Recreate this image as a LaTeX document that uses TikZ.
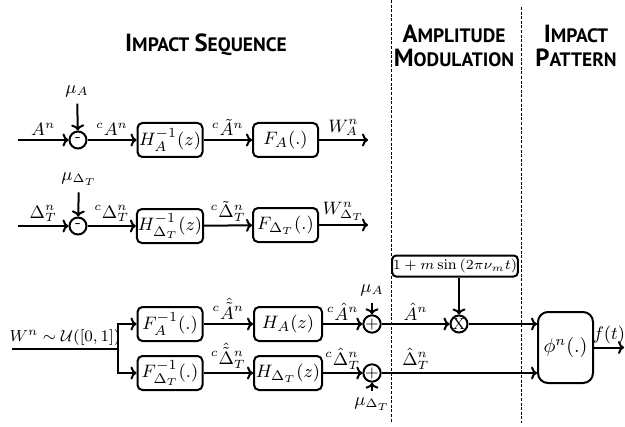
\documentclass[tikz,border=0pt]{standalone}
\usepackage{amsmath}
\usepackage{amssymb}
\usepackage{fontspec}
\usetikzlibrary{arrows.meta}
\newfontfamily\headfont{PT Sans}
\newcommand\hsc[2]{{\fontsize{12.4}{14}\selectfont #1}{\fontsize{9.7}{14}\selectfont #2}}
\tikzset{
  every node/.style={font=\fontsize{8.8}{10}\selectfont},
  blk/.style={draw,rounded corners=2.5pt,line width=1pt,minimum width=32.5pt,minimum height=17pt,inner sep=0.5pt,font=\fontsize{9.3}{11}\selectfont},
  junc/.style={draw,circle,line width=1pt,minimum size=8.5pt,inner sep=0pt,font=\footnotesize},
  sig/.style={line width=1pt,-{To[length=3pt,width=6.5pt]}},
  lbl/.style={above,inner sep=1.5pt},
  sep/.style={dash pattern=on 1.5pt off 0.8pt,line width=0.5pt},
  head/.style={font=\headfont\bfseries,align=center,inner sep=0pt}
}

\begin{document}
\begin{tikzpicture}[x=0.5pt,y=-0.5pt]
\useasboundingbox (0,0) rectangle (625,427);
% titles
\node[head] (tseq) at (206,45) {\hsc{I}{MPACT} \hsc{S}{EQUENCE}};
\node[head] (tmod) at (454,46) {\hsc{A}{MPLITUDE}\\\hsc{M}{ODULATION}};
\node[head] (tpat) at (576,46) {\hsc{I}{MPACT}\\\hsc{P}{ATTERN}};
% separators
\draw[sep] (391,0) -- (391,423);
\draw[sep] (521,7) -- (521,423);

% amplitude sequence
\coordinate (inA) at (18,140);
\node[junc] (subA) at (78,140) {-};
\node (muA) at (77,91) {$\mu_A$};
\node[blk] (invHA) at (170,140) {$H_A^{-1}(z)$};
\node[blk] (FA) at (285.5,140) {$F_A(.)$};
\coordinate (outA) at (368,140);
\draw[sig] (inA) -- node[lbl] {$A^n$} (subA);
\draw[sig] (muA) -- (subA);
\draw[sig] (subA) -- node[lbl] {${}^{c}A^n$} (invHA);
\draw[sig] (invHA) -- node[lbl] {${}^{c}\tilde{A}^n$} (FA);
\draw[sig] (FA) -- node[lbl] {$W_A^n$} (outA);

% interval sequence
\coordinate (inD) at (18,226);
\node[junc] (subD) at (78,226) {-};
\node (muD) at (79,179) {$\mu_{\Delta_T}$};
\node[blk] (invHD) at (170,226) {$H_{\Delta_T}^{-1}(z)$};
\node[blk] (FD) at (285.5,225) {$F_{\Delta_T}(.)$};
\coordinate (outD) at (368,225);
\draw[sig] (inD) -- node[lbl] {$\Delta_T^n$} (subD);
\draw[sig] (muD) -- (subD);
\draw[sig] (subD) -- node[lbl] {${}^{c}\Delta_T^n$} (invHD);
\draw[sig] (invHD) -- node[lbl] {${}^{c}\tilde{\Delta}_T^n$} (FD);
\draw[sig] (FD) -- node[lbl] {$W_{\Delta_T}^n$} (outD);

% synthesis
\coordinate (inW) at (12,349);
\coordinate (br) at (118,349);
\node[blk] (invFA) at (170,324) {$F_A^{-1}(.)$};
\node[blk] (invFD) at (170,373) {$F_{\Delta_T}^{-1}(.)$};
\node[blk,minimum width=34pt] (HA) at (288,324) {$H_A(z)$};
\node[blk,minimum width=34pt] (HD) at (288,373) {$H_{\Delta_T}(z)$};
\node[junc] (addA) at (372,324) {$+$};
\node[junc] (addD) at (372,373) {$+$};
\node (muA2) at (372,290) {$\mu_A$};
\node (muD2) at (372,404) {$\mu_{\Delta_T}$};
\node[junc] (mult) at (459,324) {X};
\node[blk,rounded corners=2pt,minimum width=0pt,minimum height=10.5pt,inner sep=0.3pt,font=\fontsize{7.5}{9}\selectfont] (mod) at (455,266) {$1+m\sin\left(2\pi\nu_m t\right)$};
\node[blk,rounded corners=5pt,minimum width=27.5pt,minimum height=35.5pt,font=\fontsize{10}{12}\selectfont] (phi) at (565.5,347.5) {$\phi^n(.)$};
\coordinate (outF) at (624,347.5);

\draw[line width=1pt] (inW) -- node[lbl,font=\fontsize{8}{10}\selectfont] {$W^n\sim\mathcal{U}([0,1])$} (br);
\draw[sig] (br) |- (invFA);
\draw[sig] (br) |- (invFD);
\draw[sig] (invFA) -- node[lbl,inner sep=2pt] {${}^{c}\hat{\tilde{A}}^n$} (HA);
\draw[sig] (invFD) -- node[lbl,inner sep=2pt] {${}^{c}\hat{\tilde{\Delta}}_T^n$} (HD);
\draw[sig] (HA) -- node[lbl] {${}^{c}\hat{A}^n$} (addA);
\draw[sig] (HD) -- node[lbl] {${}^{c}\hat{\Delta}_T^n$} (addD);
\draw[sig] (muA2) -- (addA);
\draw[sig] (muD2) -- (addD);
\draw[sig] (addA) -- node[lbl] {$\hat{A}^n$} (mult);
\draw[sig] (mod.south -| mult) -- (mult);
\draw[sig] (mult) -- (mult -| phi.west);
\draw[sig] (addD) -- node[lbl,pos=0.22] {$\hat{\Delta}_T^n$} (addD -| phi.west);
\draw[sig] (phi) -- node[lbl] {$f(t)$} (outF);
\end{tikzpicture}
\end{document}
